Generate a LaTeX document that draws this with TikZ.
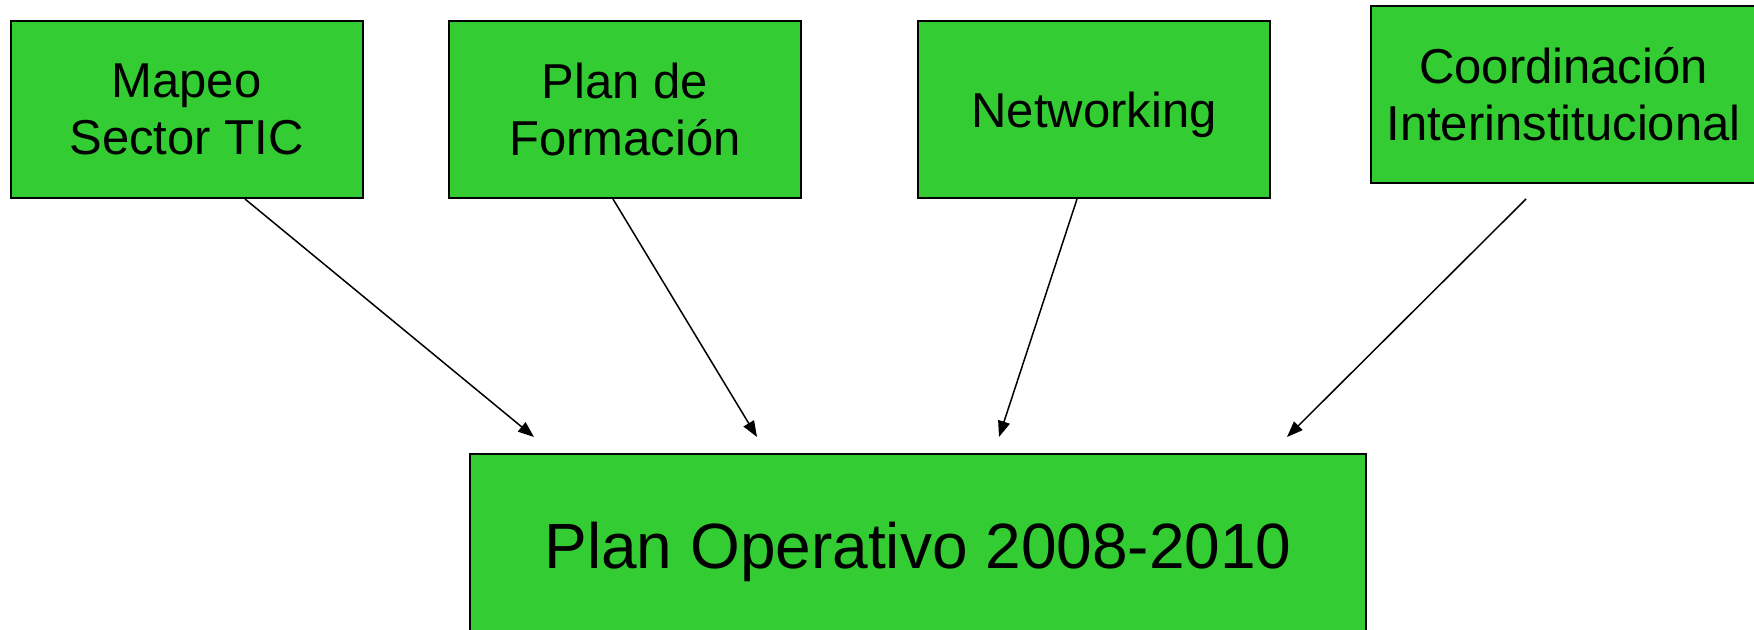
\documentclass[tikz,border=0pt]{standalone}
\usepackage{fontspec}
\setmainfont{Liberation Sans}
\usetikzlibrary{arrows.meta,calc}

\definecolor{boxgreen}{RGB}{51,204,51}
\tikzset{every picture/.style={line width=0.75pt}}
\tikzset{
  box/.style={draw=black, line width=1pt, fill=boxgreen, rectangle, inner sep=0pt,
    minimum width=352pt*0.5, minimum height=177pt*0.5, align=center,
    font=\fontsize{24.5}{28.5}\selectfont},
  arr/.style={-{Triangle[length=8pt,width=6pt]}, line width=0.75pt}
}

\begin{document}
\begin{tikzpicture}[x=0.5pt,y=0.5pt,yscale=-1,xscale=1]
\useasboundingbox (0,0) rectangle (1754,629);

% Top boxes
\node [box] (mapeo) at (186.5,109.5) {Mapeo\\Sector TIC};
\node [box] (formacion) at (625,109.5) {Plan de\\Formación};
\node [box, text height=18pt, text depth=0pt] (networking) at (1094,109.5) {Networking};
\node [box, minimum width=385pt*0.5] (coord) at (1563.5,94.5) {Coordinación\\Interinstitucional};
% Bottom box
\node [box, minimum width=896pt*0.5, text height=25.5pt, text depth=0pt,
  font=\fontsize{32}{38}\selectfont] (plan) at (918,542.5) {Plan Operativo 2008-2010};

%Straight Lines
\draw [arr] ($(mapeo.south)+(58.5,0)$) -- ($(plan.north)+(-384,-16)$);
\draw [arr] ($(formacion.south)+(-12,0)$) -- ($(plan.north)+(-161,-16)$);
\draw [arr] ($(networking.south)+(-17,0)$) -- ($(plan.north)+(81,-16)$);
\draw [arr] ($(coord.south)+(-37.5,15)$) -- ($(plan.north)+(369,-16)$);

\end{tikzpicture}
\end{document}
